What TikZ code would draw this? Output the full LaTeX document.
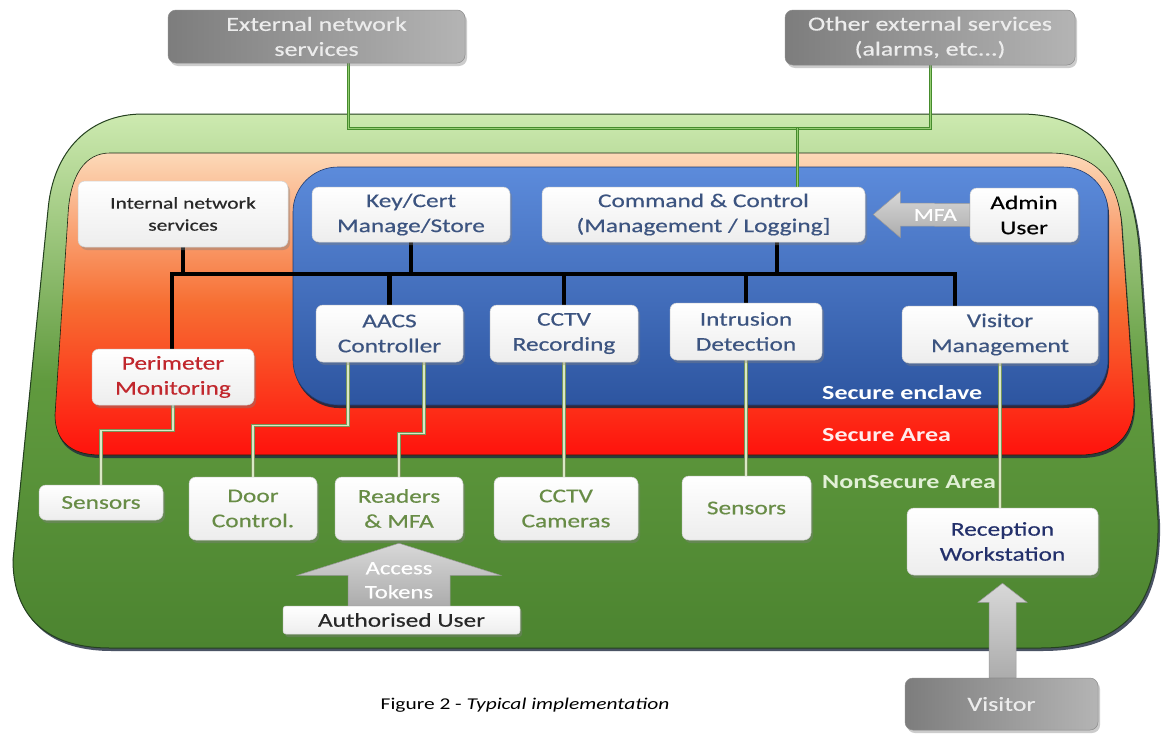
\documentclass[tikz,border=0pt]{standalone}
\usepackage{fontspec}
\setmainfont{Carlito}[FakeStretch=1.3, UprightFeatures={FakeBold=0.45}]
\newfontfamily\capfont{Carlito}[FakeStretch=1.3]
\usetikzlibrary{shadows,calc}
\pgfdeclarelayer{bg}
\pgfdeclarelayer{lines}
\pgfsetlayers{bg,lines,main}
\definecolor{txblue}{RGB}{60,84,128}
\definecolor{txred}{RGB}{193,39,45}
\definecolor{txgreen}{RGB}{104,140,70}
\definecolor{txnavy}{RGB}{35,48,107}
\definecolor{txdark}{RGB}{40,40,40}
\definecolor{gbl}{RGB}{125,125,125}
\definecolor{gbr}{RGB}{180,180,180}
\definecolor{gtx}{RGB}{236,236,236}
\definecolor{grtop}{RGB}{205,234,176}
\definecolor{grmid}{RGB}{96,154,62}
\definecolor{grbot}{RGB}{76,132,48}
\definecolor{grline}{RGB}{36,64,31}
\definecolor{sapeach}{RGB}{252,217,184}
\definecolor{saorange}{RGB}{247,110,50}
\definecolor{sared}{RGB}{255,18,12}
\definecolor{bltop}{RGB}{92,139,219}
\definecolor{blbot}{RGB}{45,85,160}
\definecolor{shadowc}{RGB}{29,40,62}
\definecolor{tlout}{RGB}{70,140,45}
\definecolor{tlin}{RGB}{150,205,115}
\definecolor{llout}{RGB}{120,150,90}
\definecolor{llin}{RGB}{218,232,198}
\definecolor{artop}{RGB}{216,216,216}
\definecolor{arbot}{RGB}{172,172,172}
\definecolor{nslab}{RGB}{226,240,214}
\definecolor{salab}{RGB}{255,236,236}
\newcommand{\myfs}[2]{\fontsize{#1}{#2}\selectfont}
\begin{document}
\begin{tikzpicture}[x=1pt,y=-1pt,
  wbox/.style={rectangle, rounded corners=7pt, draw=black!18, line width=0.5pt,
    top color=white, bottom color=black!7,
    drop shadow={shadow xshift=2pt, shadow yshift=-3pt, opacity=0.4},
    align=center, inner sep=0pt, font=\myfs{19.5}{25}},
  gbox/.style={rectangle, rounded corners=8pt, draw=black!45, line width=0.5pt,
    left color=gbl, right color=gbr,
    drop shadow={shadow xshift=2pt, shadow yshift=-3pt, opacity=0.4},
    align=center, inner sep=0pt, text=gtx, font=\myfs{20}{25}},
  bus/.style={line width=4.5pt, black, line cap=rect},
  topline/.style={draw=tlout, line width=3pt, postaction={draw=tlin, line width=1pt}},
  lline/.style={draw=llout, line width=3.5pt, postaction={draw=llin, line width=1.4pt}},
  arrowfill/.style={top color=artop, bottom color=arbot, draw=black!40, line width=0.5pt},
  arealab/.style={anchor=west, inner sep=0pt, font=\bfseries\myfs{20}{24}}
]
\useasboundingbox (0,0) rectangle (1161,736);

\begin{pgfonlayer}{bg}
\fill[white] (0,0) rectangle (1161,736);
% ---- NonSecure area (green outer) ----
\fill[shadowc, opacity=0.8, shift={(2,3)}]
  (143,114) -- (1020,114) .. controls (1100,114) and (1135,170) .. (1140,260)
  -- (1158,520) .. controls (1160,610) and (1120,648) .. (1040,648)
  -- (110,648) .. controls (40,648) and (13,610) .. (13,560)
  -- (48,210) .. controls (53,150) and (90,114) .. (143,114) -- cycle;
\path[draw=grline, line width=1pt, top color=grtop, bottom color=grbot, middle color=grmid]
  (143,114) -- (1020,114) .. controls (1100,114) and (1135,170) .. (1140,260)
  -- (1158,520) .. controls (1160,610) and (1120,648) .. (1040,648)
  -- (110,648) .. controls (40,648) and (13,610) .. (13,560)
  -- (48,210) .. controls (53,150) and (90,114) .. (143,114) -- cycle;
% ---- Secure area ----
\fill[shadowc, opacity=0.8, shift={(1,3)}]
  (110,153) -- (1050,153) .. controls (1100,153) and (1120,185) .. (1122,230)
  -- (1134,400) .. controls (1135,440) and (1110,455) .. (1080,455)
  -- (100,455) .. controls (70,455) and (55,440) .. (55,415)
  -- (68,215) .. controls (70,175) and (85,153) .. (110,153) -- cycle;
\path[draw=grline!60!black, line width=0.6pt, top color=sapeach, bottom color=sared, middle color=saorange]
  (110,153) -- (1050,153) .. controls (1100,153) and (1120,185) .. (1122,230)
  -- (1134,400) .. controls (1135,440) and (1110,455) .. (1080,455)
  -- (100,455) .. controls (70,455) and (55,440) .. (55,415)
  -- (68,215) .. controls (70,175) and (85,153) .. (110,153) -- cycle;
% ---- Secure enclave ----
\fill[shadowc, opacity=0.9, rounded corners=45pt] (294,170) rectangle (1109,408);
\path[draw=blbot!70!black, line width=0.6pt, top color=bltop, bottom color=blbot, rounded corners=45pt]
  (293,167) rectangle (1108,405);
% ---- area labels ----
\node[arealab, text=white] (lenc) at (822,393) {Secure enclave};
\node[arealab, text=salab] (lsa) at (822,435) {Secure Area};
\node[arealab, text=nslab] (lns) at (822,482) {NonSecure Area};
\end{pgfonlayer}

% ---- nodes ----
\node[gbox, minimum width=297, minimum height=53] (ext) at (316.5,36.5) {External network\\services};
\node[gbox, minimum width=290, minimum height=55] (oth) at (930,37.5) {Other external services\\(alarms, etc...)};
\node[gbox, minimum width=193, minimum height=52] (vis) at (1001.5,704) {Visitor};

\node[wbox, minimum width=210, minimum height=66, text=txdark, font=\myfs{16.5}{22}] (ins) at (183,214) {Internal network\\services};
\node[wbox, minimum width=198, minimum height=55, text=txblue] (key) at (411,214.5) {Key/Cert\\Manage/Store};
\node[wbox, minimum width=323, minimum height=55, text=txblue] (cc) at (703.5,214.5) {Command \& Control\\(Management / Logging]};
\node[wbox, minimum width=108, minimum height=54, text=black] (adm) at (1024,215) {Admin\\User};
\node[wbox, minimum width=162, minimum height=56, text=txred] (per) at (173,377) {Perimeter\\Monitoring};
\node[wbox, minimum width=147, minimum height=57, text=txblue] (aacs) at (389.5,333.5) {AACS\\Controller};
\node[wbox, minimum width=148, minimum height=57, text=txblue] (ccr) at (564,333.5) {CCTV\\Recording};
\node[wbox, minimum width=152, minimum height=57, text=txblue] (ids) at (746,331.5) {Intrusion\\Detection};
\node[wbox, minimum width=196, minimum height=57, text=txblue] (vm) at (1000,334.5) {Visitor\\Management};
\node[wbox, minimum width=124, minimum height=35, text=txgreen] (s1) at (101,502.5) {Sensors};
\node[wbox, minimum width=128, minimum height=63, text=txgreen] (door) at (253,508.5) {Door\\Control.};
\node[wbox, minimum width=128, minimum height=63, text=txgreen] (rd) at (399,508.5) {Readers\\\& MFA};
\node[wbox, minimum width=144, minimum height=63, text=txgreen] (cam) at (566,508.5) {CCTV\\Cameras};
\node[wbox, minimum width=129, minimum height=64, text=txgreen] (s2) at (746.5,508) {Sensors};
\node[wbox, minimum width=191, minimum height=67, text=txnavy] (rw) at (1002.5,541.5) {Reception\\Workstation};
\node[wbox, minimum width=237, minimum height=28, text=txdark, rounded corners=3pt] (au) at (401.5,620) {Authorised User};

% ---- caption ----
\node[inner sep=0pt, text=black, font=\capfont\myfs{16.5}{20}] (cap) at (525,705) {Figure 2 - \textit{Typical implementation}};

% ---- connectors ----
\coordinate (hy) at (0,128);
\coordinate (eL) at ([xshift=31.5pt]ext.south);
\coordinate (cT) at ([xshift=93.5pt]cc.north);
\coordinate (cB) at ([xshift=73.5pt]cc.south);
\coordinate (bL) at (172,274);
\coordinate (bR) at (955,274);
\coordinate (aL) at ([xshift=-41.5pt]aacs.south);
\coordinate (aR) at ([xshift=34.5pt]aacs.south);

\begin{pgfonlayer}{lines}
\draw[topline] (eL) -- (eL |- hy) -- (oth.south |- hy) -- (oth.south);
\draw[topline] (cT |- hy) -- (cT);

\draw[bus] (bL) -- (bR);
\draw[bus] (ins.south) -- (ins.south |- bL);
\draw[bus] (key.south) -- (key.south |- bL);
\draw[bus] (cB) -- (cB |- bL);
\draw[bus] (bL) -- (bL |- per.north);
\draw[bus] (aacs.north |- bL) -- (aacs.north);
\draw[bus] (ccr.north |- bL) -- (ccr.north);
\draw[bus] (ids.north |- bL) -- (ids.north);
\draw[bus] (bR) -- (bR |- vm.north);

\draw[lline] (per.south) -- ++(0,25) -| (s1.north);
\draw[lline] (aL) -- ++(0,63) -| (door.north);
\draw[lline] (aR) -- ++(0,71) -| (rd.north);
\draw[lline] (ccr.south) -- (ccr.south |- cam.north);
\draw[lline] (ids.south) -- (ids.south |- s2.north);
\draw[lline] (vm.south) -- (vm.south |- rw.north);

% MFA arrow (Admin -> Command & Control)
\coordinate (mT) at ([xshift=8pt]cc.east);
\path[arrowfill] (mT) -- ($(mT)+(27,-23)$) -- ($(mT)+(27,-11.5)$) -- ($(adm.west)+(0,-11.5)$)
  -- ($(adm.west)+(0,11.5)$) -- ($(mT)+(27,11.5)$) -- ($(mT)+(27,23)$) -- cycle;
% Access tokens arrow (Authorised User -> Readers)
\coordinate (tT) at ([yshift=-3pt]rd.south);
\coordinate (tB) at (tT |- au.north);
\path[arrowfill] (tT) -- ($(tT)+(-101.5,32)$) -- ($(tT)+(-51,32)$) -- ($(tB)+(-51,0)$)
  -- ($(tB)+(51,0)$) -- ($(tT)+(51,32)$) -- ($(tT)+(101.5,32)$) -- cycle;
% Visitor arrow (Visitor -> Reception)
\coordinate (vT) at ([yshift=-8pt]rw.south);
\coordinate (vB) at (vT |- vis.north);
\path[arrowfill] (vT) -- ($(vT)+(-24.5,19)$) -- ($(vT)+(-13.5,19)$) -- ($(vB)+(-13.5,0)$)
  -- ($(vB)+(13.5,0)$) -- ($(vT)+(13.5,19)$) -- ($(vT)+(24.5,19)$) -- cycle;
\end{pgfonlayer}

\node[inner sep=0pt, text=white, font=\myfs{18}{22}] (mfa) at ($(mT)+(62,0.5)$) {MFA};
\node[inner sep=0pt, text=white, align=center, font=\myfs{19}{24}] (tok) at ($(tT)+(0,37)$) {Access\\Tokens};

\end{tikzpicture}
\end{document}
